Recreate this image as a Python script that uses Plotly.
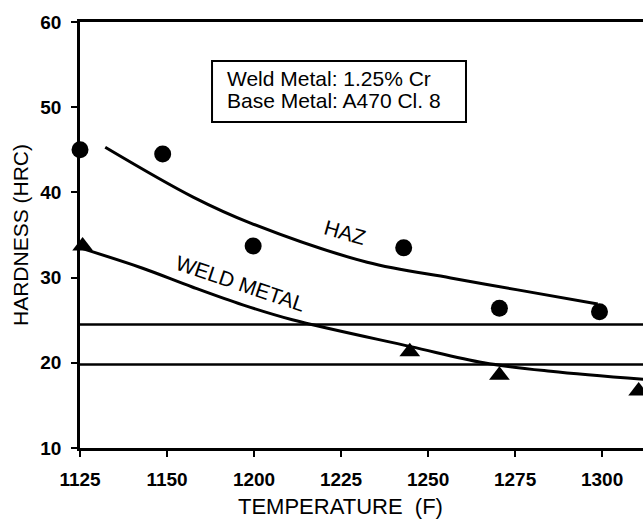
import plotly.graph_objects as go

# x positions are in tick-index units (labels are evenly spaced on the chart)
tick_pos = [0, 1, 2, 3, 4, 5, 6]
tick_text = ["1125", "1150", "1200", "1225", "1250", "1275", "1300"]
y_ticks = [10, 20, 30, 40, 50, 60]

haz_x = [0.0, 0.95, 1.99, 3.72, 4.82, 5.97]
haz_y = [45.0, 44.5, 33.7, 33.5, 26.4, 26.0]

weld_x = [0.03, 3.79, 4.82, 6.42]
weld_y = [33.7, 21.3, 18.55, 16.7]

haz_fit_x = [0.29, 1.30, 1.96, 3.30, 4.26, 5.03, 5.95]
haz_fit_y = [45.3, 39.45, 36.4, 31.8, 29.96, 28.56, 26.9]

weld_fit_x = [0.03, 0.72, 1.29, 1.87, 2.44, 3.80, 4.64, 5.41, 6.48]
weld_fit_y = [33.4, 31.1, 28.9, 26.8, 25.05, 21.9, 20.0, 19.0, 18.05]

limit_x = [0, 6.6]
limit_upper = [24.5, 24.5]
limit_lower = [19.8, 19.8]

box_lines = ["Weld Metal: 1.25% Cr", "Base Metal: A470 Cl. 8"]

FONT = "Liberation Sans, Arial, sans-serif"

fig = go.Figure()
for ly in (limit_upper, limit_lower):
    fig.add_trace(go.Scatter(x=limit_x, y=ly, mode="lines",
                             line=dict(color="black", width=2.5), showlegend=False))
fig.add_trace(go.Scatter(x=haz_fit_x, y=haz_fit_y, mode="lines", line_shape="spline",
                         line=dict(color="black", width=3), showlegend=False))
fig.add_trace(go.Scatter(x=weld_fit_x, y=weld_fit_y, mode="lines", line_shape="spline",
                         line=dict(color="black", width=3), showlegend=False))
fig.add_trace(go.Scatter(x=haz_x, y=haz_y, mode="markers",
                         marker=dict(symbol="circle", size=17, color="black"),
                         cliponaxis=False, showlegend=False))
fig.add_trace(go.Scatter(x=weld_x, y=weld_y, mode="markers",
                         marker=dict(symbol="triangle-up", size=18, color="black"),
                         cliponaxis=False, showlegend=False))

fig.add_annotation(x=3.05, y=35.3, text="HAZ", showarrow=False, textangle=16,
                   font=dict(family=FONT, size=21, color="black"))
fig.add_annotation(x=1.85, y=29.3, text="WELD METAL", showarrow=False, textangle=18.5,
                   font=dict(family=FONT, size=21, color="black"))

# legend-like text box
fig.add_shape(type="rect", xref="paper", yref="paper", x0=0.2345, x1=0.6856, y0=0.7653, y1=0.9085,
              line=dict(color="black", width=2), fillcolor="white", layer="above")
for txt, yy in zip(box_lines, [0.868, 0.815]):
    fig.add_annotation(xref="paper", yref="paper", x=0.2575, y=yy, xanchor="left", yanchor="middle",
                       text=txt, showarrow=False,
                       font=dict(family=FONT, size=21, color="black"))

fig.add_annotation(xref="paper", yref="paper", x=0.462, y=-0.137, yanchor="middle",
                   text="TEMPERATURE  (F)", showarrow=False,
                   font=dict(family=FONT, size=22, color="black"))

fig.update_layout(
    width=643, height=523,
    margin=dict(l=80, r=0, t=22, b=75),
    plot_bgcolor="white", paper_bgcolor="white",
    xaxis=dict(range=[0, 6.47], tickvals=tick_pos, ticktext=tick_text,
               showline=True, linecolor="black", linewidth=2.5, mirror=True,
               ticks="outside", ticklen=6, tickwidth=2, tickcolor="black",
               showgrid=False, zeroline=False, ticklabelstandoff=6,
               tickfont=dict(family=FONT, size=19, color="black", weight="bold")),
    yaxis=dict(range=[10, 60], tickvals=y_ticks,
               showline=True, linecolor="black", linewidth=2.5,
               ticks="outside", ticklen=6, tickwidth=2, tickcolor="black",
               showgrid=False, zeroline=False, ticklabelstandoff=6,
               title=dict(text="HARDNESS (HRC)", standoff=6,
                          font=dict(family=FONT, size=21, color="black")),
               tickfont=dict(family=FONT, size=19, color="black", weight="bold")),
)

fig.write_html("out.html", config={"displayModeBar": False},
               post_script="document.body.style.margin='0';document.body.style.overflow='hidden';")
